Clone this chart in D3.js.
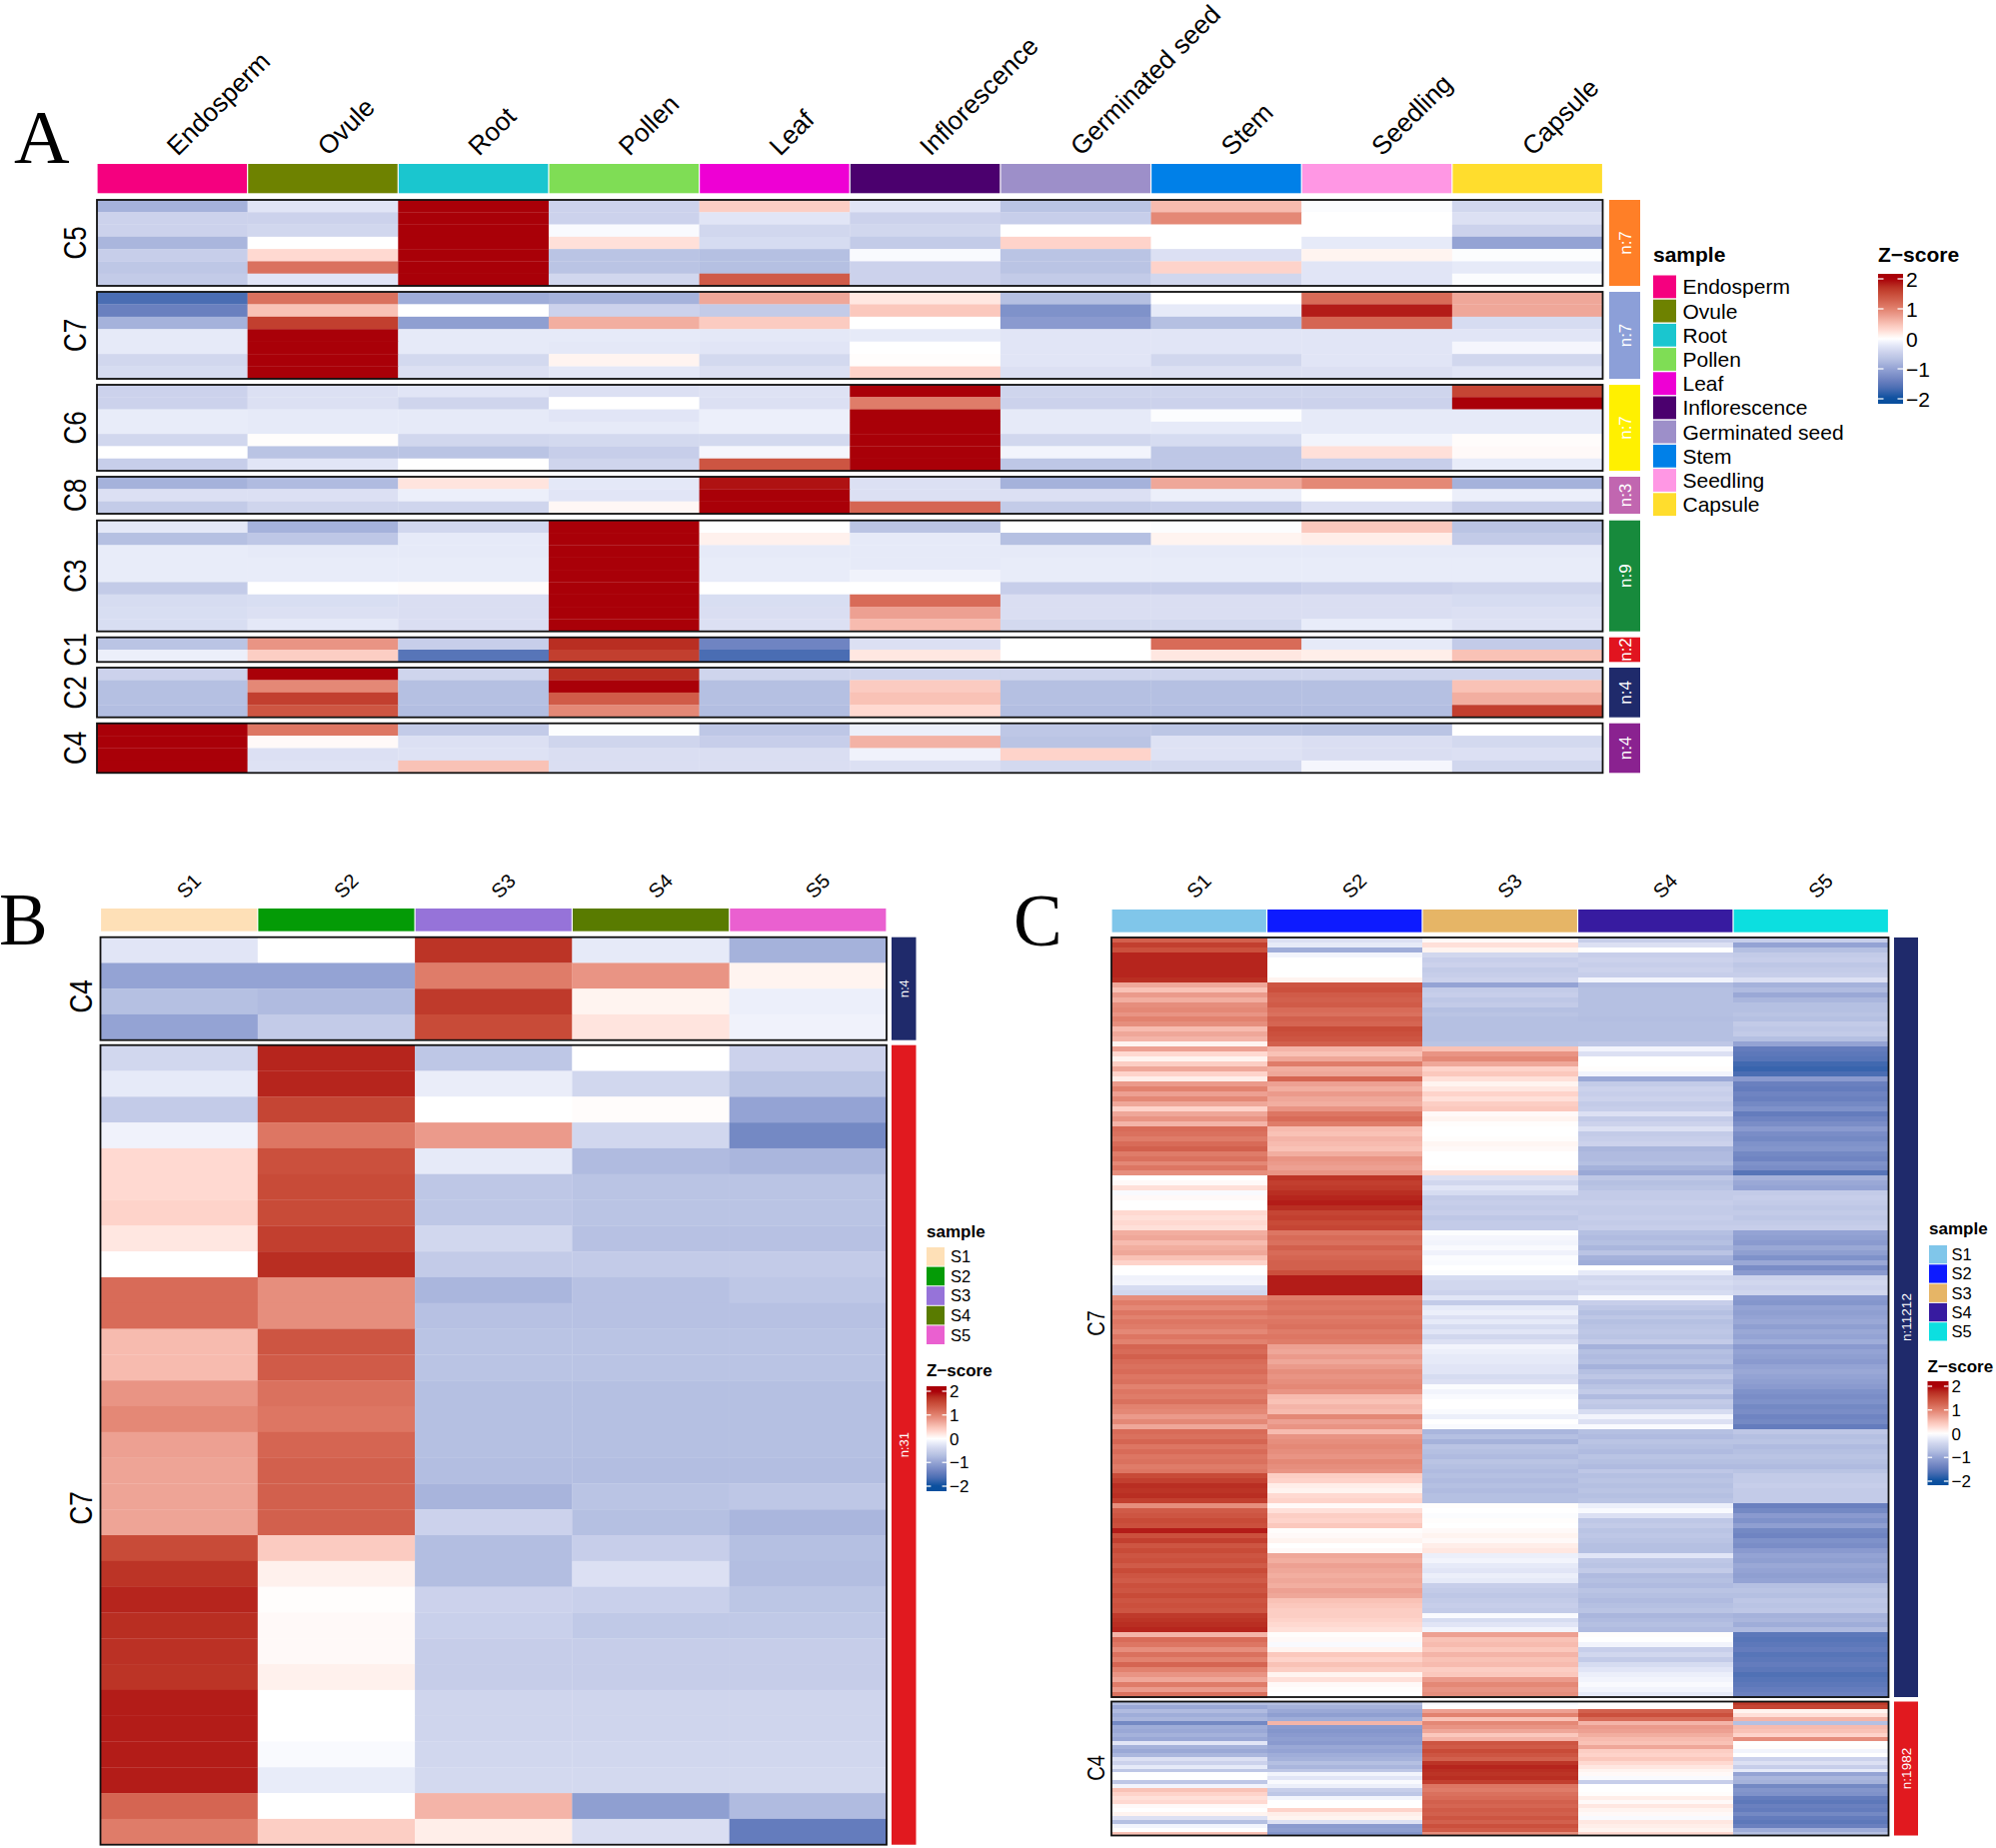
<!DOCTYPE html>
<html><head><meta charset="utf-8">
<script src="https://cdn.jsdelivr.net/npm/d3@7/dist/d3.min.js"></script>
<style>html,body{margin:0;padding:0;background:#fff}svg{display:block}text{font-family:"Liberation Sans",Arial,sans-serif;fill:#000}</style>
</head><body><script>
// ---------- Panel A ----------
const tissues=["Endosperm","Ovule","Root","Pollen","Leaf","Inflorescence","Germinated seed","Stem","Seedling","Capsule"];
const tissueColors=["#f5007f","#6e8200","#1ac6cf","#7fdd55","#ee00d4","#4b006e","#9d8fc9","#0080e8","#ff97e4","#ffdd2d"];
const aC5=[[-.85,-.25,2,-.45,.4,-.25,-.65,.55,-.03,-.4],[-.45,-.45,2,-.45,-.25,-.45,-.5,.95,0,-.3],[-.45,-.4,2,-.05,-.4,-.4,0,0,0,-.45],[-.8,0,2,.25,-.35,-.55,.35,0,-.2,-1],[-.5,.3,2,-.65,-.7,-.05,-.65,-.3,.1,-.02],[-.6,1.15,2,-.65,-.7,-.45,-.65,.35,-.25,-.2],[-.55,-.25,2,-.4,1.35,-.45,-.55,-.4,-.25,-.03]];
const aC7=[[-1.65,1.15,-.9,-.85,.7,.2,-.7,0,1.2,.7],[-1.4,.5,0,-.45,-.55,.45,-1.2,-.2,1.85,.7],[-.85,1.6,-1.05,.65,.42,0,-1.1,-.7,1.25,-.35],[-.2,2,-.2,-.2,-.22,-.2,-.25,-.25,-.25,-.25],[-.2,2,-.2,-.22,-.25,0,-.25,-.25,-.25,-.08],[-.4,2,-.38,.1,-.38,.02,-.25,-.4,-.25,-.4],[-.35,2,-.3,-.22,-.3,.35,-.3,-.3,-.3,-.25]];
const aC6=[[-.45,-.3,-.25,-.3,-.28,2,-.42,-.42,-.42,1.55],[-.45,-.3,-.42,0,-.3,1.05,-.45,-.45,-.45,2],[-.18,-.2,-.2,-.25,-.15,2,-.2,-.02,-.2,-.2],[-.18,-.2,-.2,-.2,-.15,2,-.2,-.2,-.2,-.2],[-.4,.02,-.4,-.38,-.38,2,-.4,-.35,-.1,.03],[0,-.65,-.65,-.5,-.08,2,-.1,-.6,.25,.05],[-.5,-.25,0,-.42,1.4,2,-.6,-.6,-.5,-.18]];
const aC8=[[-.85,-.75,.22,-.22,1.9,-.3,-.85,.7,.95,-.85],[-.3,-.3,-.15,-.25,2,-.3,-.3,-.15,0,-.15],[-.55,-.42,-.42,.07,2,1.25,-.55,-.5,-.3,-.5]];
const aC3=[[-.22,-.85,-.4,2,0,-.65,0,-.02,.45,-.65],[-.7,-.6,-.2,2,.12,-.2,-.7,.1,.15,-.55],[-.18,-.2,-.2,2,-.2,-.2,-.2,-.2,-.2,-.2],[-.18,-.18,-.18,2,-.18,-.2,-.18,-.18,-.18,-.18],[-.18,-.18,-.18,2,-.18,-.12,-.18,-.18,-.18,-.18],[-.55,0,.02,2,0,0,-.5,-.5,-.45,-.42],[-.35,-.33,-.32,2,-.33,1.2,-.32,-.32,-.32,-.35],[-.33,-.3,-.32,2,-.32,.75,-.32,-.32,-.32,-.3],[-.33,-.22,-.32,2,-.3,.55,-.38,-.38,-.18,-.28]];
const aC1=[[-.65,.85,-.5,1.75,-1.35,-.3,0,1.2,-.2,-.55],[-.15,.4,-1.55,1.6,-1.65,.2,0,.2,.15,.5]];
const aC2=[[-.45,2,-.42,1.75,-.42,-.42,-.42,-.42,-.42,-.42],[-.7,.95,-.7,2,-.7,.42,-.7,-.7,-.7,.5],[-.7,1.6,-.7,1.35,-.7,.5,-.7,-.7,-.7,.65],[-.72,1.4,-.72,.95,-.72,.3,-.72,-.72,-.72,1.6]];
const aC4=[[2,1.1,-.55,-.02,-.6,-.15,-.6,-.62,-.65,0],[2,.05,-.3,-.42,-.5,.62,-.65,-.28,-.32,-.38],[2,-.3,-.28,-.32,-.32,-.12,.35,-.28,-.32,-.3],[2,-.28,.5,-.32,-.32,-.3,-.38,-.38,-.08,-.4]];
const aGroups=["C5","C7","C6","C8","C3","C1","C2","C4"];
const aCounts=["n:7","n:7","n:7","n:3","n:9","n:2","n:4","n:4"];
const aBarColors=["#ff7f27","#8c9fd8","#fff000","#c166b0","#178a3c","#e1141f","#1f2a6b","#8a2290"];
// ---------- Panel B ----------
const samples=["S1","S2","S3","S4","S5"];
const bColors=["#fee0b7","#049b06","#9673d9","#597b00","#ea60d0"];
const bC4=[[-.25,0,1.7,-.2,-.85],[-1,-1,1.05,.85,.1],[-.7,-.75,1.65,.1,-.15],[-1,-.55,1.5,.22,-.12]];
const bC7=[[-.4,1.8,-.6,0,-.45],[-.2,1.8,-.17,-.4,-.65],[-.55,1.55,0,.03,-1],[-.12,1.1,.8,-.4,-1.3],[.3,1.45,-.2,-.75,-.8],[.3,1.5,-.6,-.65,-.65],[.35,1.5,-.6,-.65,-.65],[.2,1.6,-.4,-.68,-.68],[0,1.75,-.55,-.55,-.55],[1.2,.9,-.8,-.68,-.6],[1.2,.9,-.68,-.68,-.68],[.55,1.4,-.65,-.65,-.65],[.55,1.35,-.65,-.65,-.65],[.85,1.15,-.7,-.7,-.7],[.95,1.1,-.7,-.7,-.7],[.75,1.25,-.7,-.7,-.7],[.72,1.3,-.72,-.72,-.72],[.72,1.3,-.82,-.65,-.6],[.72,1.3,-.45,-.7,-.8],[1.5,.42,-.72,-.5,-.7],[1.7,.12,-.72,-.3,-.72],[1.8,.02,-.45,-.48,-.62],[1.75,.05,-.48,-.58,-.58],[1.72,.05,-.52,-.52,-.52],[1.7,.12,-.52,-.52,-.52],[1.85,0,-.42,-.42,-.42],[1.85,0,-.42,-.42,-.42],[1.85,-.05,-.4,-.4,-.4],[1.85,-.18,-.38,-.38,-.38],[1.25,0,.6,-1.05,-.75],[1.05,.4,.15,-.32,-1.45]];
// ---------- Panel C ----------
const cColors=["#80c6ea","#0d1bff","#e6b566","#371ba0","#0cdfe0"];
const cC7S1=[1.3,1.6,1.45, 1.8,1.8,1.8,1.8,1.8,1.75, .7,.5,.8,.65,.9, .95,.85,1,.9, .55,.7,.6, .1,.75,.3,.1,.4,.7,.35,.15, .8,1,.75,.95,.7,.35,.7,.85,.6, 1.2,1.15,1.05,1.2,1.3,1.05,1.15,.95,1.1,.9, 0,.05,.25,-.05,.05,0,0,.3,.25,.3,.25, .65,.7,.55,.65,.7,.5,.35, 0,0,-.12,-.1,-.35,-.4, .9,1.05,.95,1.1,1,1.1,1.05,.95,1.1,1, 1.25,1.2,1.3,1.2,1.15, 1.2,1.1,1.15, 1,1.1,1.05,1.15,1,.95, .8,.95,.7, 1.2,1.15,1.25,1.1,1.2,1.1,1.15,1.05,1.1, 1.5,1.6,1.75,1.7,1.75,1.6, .9,1.35, 1.4,1.5,1.45,1.85, 1.45,1.6,1.4,1.5, 1.4,1.45,1.35,1.5,1.4,1.35,1.45,1.4,1.5,1.4,1.45,1.4, 1.65,1.7,1.75,1.8, .6,1.2,1.1,.9,1.15,1,1.25,1,.85,.7,1.05,.8,1.15];
const cC7S2=[-.3,-.2,-.9, -.1,0,0,0,0,.1, 1.4,1.45,1.35,1.3,1.35, 1.2,1.15,1.3,1.25, 1.5,1.45,1.4, 1.3,.6,.5,.7,1.05,.65,.7,1.25, .75,.65,.8,.7,.65,.85,1.1,1.2,1.05, .55,.5,.6,.55,.5,.65,.85,.8,.75,.85, 1.7,1.6,1.65,1.75,1.8,1.85,1.75,1.55,1.6,1.5,1.55, 1.1,1.2,1.15,1.3,1.2,1.25,1.3, 1.3,1.45,1.85,1.85,1.85,1.85, 1.05,1.15,1.1,1.15,1.05,1.1,1.15,1.05,1.1,1.05, .75,.7,.8,.7,.8, .9,.85,.9, .95,.85,.55,.5,.6,.55, .95,.75,.85, .55,.85,.9,.95,.9,.85,.95,.9,.85, .4,.35,.15,.1,.3,.35, .05,.25, .4,.35,.45,.02, .05,.1,0,.05, .7,.65,.75,.7,.65,.7,.65,.75,.7,.5,.45,.4, .4,.35,.3,.25, .02,.05,-.05,.1,.45,.35,.5,.4,.1,.25,.05,.02,0];
const cC7S3=[.05,.25,.1, -.4,-.5,-.45,-.55,-.5,-.45, -1,-.55,-.5,-.6,-.55, -.7,-.65,-.7,-.7, -.7,-.7,-.7, -.65,.5,.85,.95,.7,.35,.45,.25, .1,.2,.35,.25,.4,.45,.05,.1,.02, 0,0,.02,.08,.05,0,0,0,.02,.25, -.3,-.4,-.25,-.35,-.55,-.5,-.55,-.5,-.6,-.55,-.55, -.02,-.08,-.1,-.05,-.12,-.03,-.05, 0,-.02,-.35,-.4,-.4,-.45, -.25,-.55,-.2,-.15,-.3,-.2,-.35,-.25,-.4,-.3, -.1,-.15,-.2,-.2,-.25, -.25,-.35,-.3, -.03,-.1,-.05,0,0,-.05, -.15,0,-.05, -.8,-.7,-.85,-.65,-.7,-.75,-.65,-.7,-.75, -.7,-.75,-.7,-.75,-.7,-.7, .02,0, -.03,.02,0,.05, .1,.05,.15,.2, -.15,-.1,-.2,-.25,-.15,-.2,-.5,-.55,-.6,-.55,-.5,-.55, -.05,-.35,-.25,-.1, .75,.5,.55,.45,.6,.5,.55,.4,.45,.8,.95,.85,.9];
const cC7S4=[-.5,-.3,0, -.5,-.45,-.5,-.45,-.5,-.1, -.75,-.7,-.7,-.7,-.7, -.7,-.7,-.72,-.7, -.7,-.7,-.7, -.6,-.1,-.3,0,0,.02,-.1,-.95, -.55,-.45,-.5,-.45,-.55,-.5,-.3,-.55,-.45, -.3,-.55,-.5,-.45,-.8,-.75,-.75,-.7,-.85,-.95, -.6,-.7,-.65,-.55,-.55,-.5,-.55,-.55,-.5,-.55,-.5, -.7,-.75,-.7,-.8,-.65,-.85,-.9, 0,-.2,-.4,-.35,-.4,-.35, -.05,-.5,-.6,-.7,-.6,-.7,-.65,-.6,-.65,-.55, -.85,-.7,-.75,-.7,-.85, -.7,-.6,-.75, -.65,-.55,-.75,-.55,-.6,-.35, -.1,-.3,-.05, -.7,-.75,-.65,-.7,-.75,-.65,-.7,-.75,-.6, -.7,-.65,-.7,-.65,-.7,-.65, -.15,-.05, -.3,-.6,-.55,-.65, -.6,-.65,-.7,-.7, -.25,-.6,-.65,-.55,-.75,-.7,-.75,-.65,-.7,-.75,-.7,-.65, -.8,-.75,-.7,-.75, .02,0,-.1,-.5,-.4,-.55,-.35,-.25,-.15,-.1,-.05,-.1,-.2];
const cC7S5=[-.5,-1,-.7, -.55,-.5,-.6,-.55,-.5,-.3, -.85,-.75,-.95,-.8,-.7, -.7,-.65,-.7,-.55, -.6,-.55,-.7, -1,-1.45,-1.5,-1.55,-1.7,-1.75,-1.65,-1.1, -1.4,-1.45,-1.35,-1.4,-1.3,-1.2,-1.45,-1.35,-1.25, -1.1,-1.25,-1.3,-1.2,-1.15,-1.3,-1.35,-1.2,-1.25,-1.55, -.85,-.95,-1,-.55,-.5,-.55,-.6,-.55,-.6,-.55,-.5, -1,-1.05,-1.1,-.95,-1.05,-1.2,-.95, -1.25,-1.1,-.45,-.4,-.45,-.4, -1.1,-1.15,-1,-1.05,-1,-.95,-1.05,-.95,-1,-.9, -1.1,-1,-1.05,-1.1,-1, -.95,-1,-1.05, -1.1,-1.2,-1.25,-1.2,-1.3,-1.25, -1.35,-1.3,-1.45, -.6,-.7,-.65,-.75,-.7,-.65,-.7,-.75,-.65, -.55,-.55,-.5,-.55,-.55,-.55, -1.4,-1.3, -1.1,-1.2,-1.05,-1.3, -1.35,-1.2,-1.25,-1.1, -1,-1.05,-.95,-1,-1.05,-1,-.7,-.65,-.7,-.6,-.65,-.6, -.85,-.8,-.9,-.75, -1.5,-1.55,-1.5,-1.45,-1.55,-1.5,-1.45,-1.5,-1.6,-1.55,-1.5,-1.45,-1.4];
const cC4S1=[-.7,-.95,-.75,-.9,-.8,-1.3,-.9,-.95,-.85,-.95,-.25,-.85,-.95,-.8,-.3,-.45,-.2,-.6,0,0,-.6,-.1,.5,.35,.25,.3,.05,0,.1,-.3,-.7,-.1,0,.5];
const cC4S2=[-.7,-.85,-.95,-1.05,-.9,.6,-1.1,-1.15,-1.1,-1.05,-1.1,-.95,-1,-.9,-.85,-.7,-.8,-.6,-.1,-.25,-.05,-.15,-.5,-.6,-.1,0,0,.35,.15,.1,-.3,-1.1,-1.05,-1.15];
const cC4S3=[-.05,-.02,.75,1,.5,.95,.85,.7,.45,.6,1.4,1.35,1.5,1.4,1.3,1.7,1.8,1.75,1.7,1.75,1.6,1.1,1.05,1.15,1.2,1.3,1.25,1.35,1.3,1.4,1.3,1.45,1.35,.9];
const cC4S4=[0,.02,1.3,1.45,1.2,.6,.8,.75,.65,.55,.5,.7,.4,.35,.45,.3,.2,.1,.05,-.05,-.5,0,0,.02,.15,.05,.2,.1,.05,-.05,.2,.15,.1,.3];
const cC4S5=[1.65,1.55,.1,.25,.6,-.7,.55,.5,.35,.9,0,.02,-.1,0,-.45,-.3,-.5,-.2,-1,-.8,-.85,-1.3,-1.15,-1.2,-1.45,-1.5,-1.4,-1.45,-1.3,-1.45,-1.5,-1.4,-.9,-.7];
const colorbarTicks=[2,1,0,-1,-2];
const colorStops=[-2,-1.65,-1.4,-1,-.7,-.45,-.2,-.1,0,.15,.3,.5,.75,1,1.25,1.5,1.75,2];
const colorRamp=["#0a4f9e","#4a6db3","#6a80bf","#94a3d4","#b5c0e2","#ccd2ec","#e6eaf8","#f2f4fc","#ffffff","#ffeee9","#ffd9d1","#f9c2b6","#eda092","#e2826f","#d56552","#c84b38","#b92e22","#a90008"];

const color=d3.scaleLinear().domain(colorStops).range(colorRamp).clamp(true);
const svg=d3.select("body").append("svg").attr("width",1997).attr("height",1849).attr("viewBox","0 0 1997 1849");
svg.append("rect").attr("width",1997).attr("height",1849).attr("fill","#fff");

function topAnno(x,names,colors,y0,y1){
  const g=svg.append("g");
  g.selectAll("rect").data(names).join("rect")
    .attr("x",d=>x(d)+.6).attr("width",x.bandwidth()-1.2).attr("y",y0).attr("height",y1-y0)
    .attr("fill",(d,i)=>colors[i]);
}
function colLabels(x,names,y,size,dx){
  svg.append("g").selectAll("text").data(names).join("text")
    .attr("transform",d=>`translate(${x(d)+x.bandwidth()/2+dx},${y}) rotate(-45)`)
    .attr("font-size",size).text(d=>d);
}
function rowsBlock(rows,names,x,y0,y1){
  const y=d3.scaleBand().domain(d3.range(rows.length)).range([y0,y1]);
  const g=svg.append("g");
  rows.forEach((r,i)=>{
    g.selectAll(null).data(r).join("rect")
      .attr("x",(d,j)=>x(names[j])).attr("width",x.bandwidth()+.25)
      .attr("y",y(i)).attr("height",y.bandwidth()+.25).attr("fill",d=>color(d));
  });
  frame(x,y0,y1);
}
function colsBlock(cols,names,x,y0,y1){
  const g=svg.append("g").attr("shape-rendering","crispEdges");
  cols.forEach((c,j)=>{
    const y=d3.scaleBand().domain(d3.range(c.length)).range([y0,y1]);
    g.selectAll(null).data(c).join("rect")
      .attr("x",x(names[j])).attr("width",x.bandwidth())
      .attr("y",(d,i)=>y(i)).attr("height",y.bandwidth()+.5).attr("fill",d=>color(d));
  });
  frame(x,y0,y1);
}
function frame(x,y0,y1){
  const r=x.range();
  svg.append("rect").attr("x",r[0]).attr("y",y0).attr("width",r[1]-r[0]).attr("height",y1-y0)
    .attr("fill","none").attr("stroke","#111").attr("stroke-width",1.8);
}
function groupLabel(t,x,y,size){
  svg.append("text").attr("transform",`translate(${x},${y}) scale(1.2,1) rotate(-90)`)
    .attr("text-anchor","middle").attr("font-size",size).text(t);
}
function sideBar(x0,x1,y0,y1,col,label,size){
  svg.append("rect").attr("x",x0).attr("y",y0).attr("width",x1-x0).attr("height",y1-y0).attr("fill",col);
  svg.append("text").attr("transform",`translate(${(x0+x1)/2+size*.36},${(y0+y1)/2}) rotate(-90)`)
    .attr("text-anchor","middle").attr("font-size",size).style("fill","#fff").text(label);
}
function legendSample(names,colors,x,titleY,swY,step,swW,swH,labelX,size,titleSize){
  svg.append("text").attr("x",x).attr("y",titleY).attr("font-size",titleSize).attr("font-weight","bold").text("sample");
  const g=svg.append("g");
  names.forEach((n,i)=>{
    g.append("rect").attr("x",x).attr("y",swY+i*step).attr("width",swW).attr("height",swH).attr("fill",colors[i]);
    g.append("text").attr("x",labelX).attr("y",swY+i*step+swH/2+size*.36).attr("font-size",size).text(n);
  });
}
let gradN=0;
function legendZ(x,titleY,w,yTop,yBot,y2,yM2,size,titleSize){
  const s=d3.scaleLinear().domain([2,-2]).range([y2,yM2]);
  svg.append("text").attr("x",x).attr("y",titleY).attr("font-size",titleSize).attr("font-weight","bold").text("Z\u2212score");
  const id="g"+(gradN++);
  const lg=svg.append("defs").append("linearGradient").attr("id",id).attr("x1",0).attr("x2",0).attr("y1",0).attr("y2",1);
  d3.range(0,1.0001,.025).forEach(t=>{
    const v=s.invert(yTop+t*(yBot-yTop));
    lg.append("stop").attr("offset",t).attr("stop-color",color(v));
  });
  svg.append("rect").attr("x",x).attr("y",yTop).attr("width",w).attr("height",yBot-yTop).attr("fill",`url(#${id})`);
  colorbarTicks.forEach(t=>{
    const yy=s(t);
    [[x,x+w*.22],[x+w*.78,x+w]].forEach(seg=>svg.append("line").attr("x1",seg[0]).attr("x2",seg[1]).attr("y1",yy).attr("y2",yy).attr("stroke","#fff").attr("stroke-width",1.4).attr("opacity",.9));
    svg.append("text").attr("x",x+w+3).attr("y",yy+size*.36).attr("font-size",size).text(t<0?"\u2212"+(-t):t);
  });
}
function panelLetter(t,x,y,size){
  svg.append("text").attr("x",x).attr("y",y).attr("font-size",size).style("font-family","'Liberation Serif',serif").text(t);
}

// Panel A
const xA=d3.scaleBand().domain(tissues).range([97,1603.5]);
topAnno(xA,tissues,tissueColors,164,193.3);
colLabels(xA,tissues,157,26,5.5);
const aBlocks=[aC5,aC7,aC6,aC8,aC3,aC1,aC2,aC4];
const aY=[[200,286],[292,379],[385,471],[477,514],[520.7,631.7],[637.7,662.3],[668,717.7],[723.7,773.3]];
aBlocks.forEach((b,i)=>{
  rowsBlock(b,tissues,xA,aY[i][0],aY[i][1]);
  groupLabel(aGroups[i],86,(aY[i][0]+aY[i][1])/2,26);
  sideBar(1610,1641,aY[i][0],aY[i][1],aBarColors[i],aCounts[i],17);
});
legendSample(tissues,tissueColors,1654,262,275.5,24.2,23,22.8,1683.5,21,21);
legendZ(1879,262,25,274,404,279,399,21,21);
panelLetter("A",14,163,77);

// Panel B
const xB=d3.scaleBand().domain(samples).range([100.5,887]);
topAnno(xB,samples,bColors,909,931.7);
colLabels(xB,samples,900,20,6);
rowsBlock(bC4,samples,xB,937.7,1040.7);
rowsBlock(bC7,samples,xB,1045.7,1845.7);
groupLabel("C4",92,997,26);
groupLabel("C7",92,1509,26);
sideBar(892,916.5,937.7,1040.7,"#1f2a6b","n:4",13);
sideBar(892,916.5,1045.7,1845.7,"#e1191f","n:31",13);
legendSample(samples,bColors,927,1238,1248,19.6,18,18.6,951,16.5,17);
legendZ(927,1377,20,1387,1492,1392,1487,17,17);
panelLetter("B",-1,945,73);

// Panel C
const xC=d3.scaleBand().domain(samples).range([1112,1889.5]);
topAnno(xC,samples,cColors,910,932.7);
colLabels(xC,samples,900,20,6);
colsBlock([cC7S1,cC7S2,cC7S3,cC7S4,cC7S5],samples,xC,938,1698);
colsBlock([cC4S1,cC4S2,cC4S3,cC4S4,cC4S5],samples,xC,1702.5,1836.5);
groupLabel("C7",1105,1324,20);
groupLabel("C4",1105,1769,20);
sideBar(1895,1919,938,1698,"#1f2a6b","n:11212",13.5);
sideBar(1895,1919,1702.5,1836.5,"#e1191f","n:1982",13.5);
legendSample(samples,cColors,1930,1235,1246,19.3,18,18.3,1952.5,16.5,17);
legendZ(1928.5,1373,21,1382,1486,1387,1482,17,17);
panelLetter("C",1014,946,73);
</script></body></html>
